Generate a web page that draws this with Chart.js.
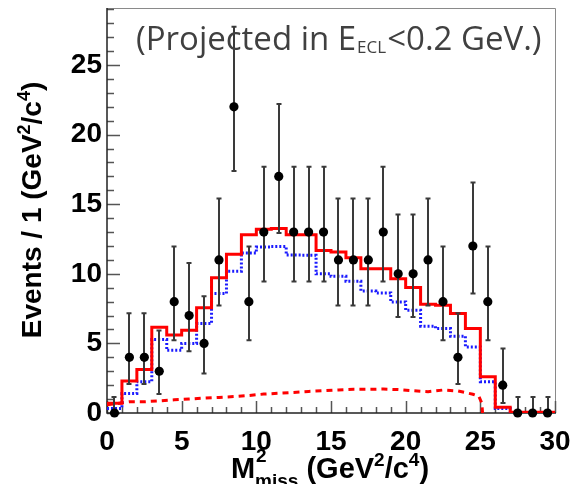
<!DOCTYPE html>
<html><head><meta charset="utf-8">
<script src="https://cdn.jsdelivr.net/npm/chart.js@4.4.1/dist/chart.umd.min.js"></script>
<style>html,body{margin:0;padding:0;background:#fff;overflow:hidden;} #wrap{width:572px;height:484px;position:relative;}</style>
</head><body><div id="wrap"><canvas id="c" width="572" height="484"></canvas></div>
<script>
// ---- data ----
const binCenters = [0.5,1.5,2.5,3.5,4.5,5.5,6.5,7.5,8.5,9.5,10.5,11.5,12.5,13.5,14.5,15.5,16.5,17.5,18.5,19.5,20.5,21.5,22.5,23.5,24.5,25.5,26.5,27.5,28.5,29.5];
const binEdges = [0,1,2,3,4,5,6,7,8,9,10,11,12,13,14,15,16,17,18,19,20,21,22,23,24,25,26,27,28,29,30];
const events = [0,4,4,3,8,7,5,11,22,8,13,17,13,13,13,11,11,11,13,10,10,11,8,4,12,8,2,0,0,0];
const errLow = [0,2.09,2.09,1.37,5.22,4.43,2.84,7.73,17.38,5.22,9.44,12.93,9.44,9.44,9.44,7.73,7.73,7.73,9.44,6.89,6.89,7.73,5.22,2.09,8.59,5.22,0.71,0,0,0];
const errHigh = [1.15,7.16,7.16,5.92,11.97,10.77,8.38,15.42,27.76,11.97,17.70,22.21,17.70,17.70,17.70,15.42,15.42,15.42,17.70,14.27,14.27,15.42,11.97,7.16,16.56,11.97,4.64,1.15,1.15,1.15];
const totalFit = [0.7,2.3,3.13,6.16,5.6,5.95,7.57,9.72,11.4,12.8,13.2,13.26,12.8,12.8,11.68,11.56,11.16,10.37,10.37,9.65,9.01,7.81,7.74,7.15,6.07,2.6,0.41,0.05,0.05,0.05];
const signalFit = [0.33,1.4,2.25,5.28,4.5,5.0,6.43,8.58,10.18,11.5,11.92,11.97,11.35,11.33,10.0,9.82,9.46,8.77,8.63,7.98,7.38,6.24,6.07,5.52,4.75,2.25,0.33,0.02,0.02,0.02];
const bgX = [0,0.5,1.5,2.5,3.5,4.5,5.5,6.5,7.5,8.5,9.5,10.5,11.5,12.5,13.5,14.5,15.5,16.5,17.5,18.5,19.5,20.5,21.5,22.5,23.5,24.5,24.9,25.1,25.15];
const bgY = [0.6,0.65,0.81,0.81,0.87,0.95,1.0,1.07,1.12,1.18,1.26,1.36,1.42,1.48,1.55,1.6,1.65,1.7,1.7,1.72,1.68,1.6,1.53,1.65,1.58,1.35,1.2,0.7,0];
const xTickValues = [0,5,10,15,20,25,30];
const yTickValues = [0,5,10,15,20,25];
const xMinor = [0,1,2,3,4,5,6,7,8,9,10,11,12,13,14,15,16,17,18,19,20,21,22,23,24,25,26,27,28,29,30];
const yMinor = [0,1,2,3,4,5,6,7,8,9,10,11,12,13,14,15,16,17,18,19,20,21,22,23,24,25,26,27,28,29];
const annotation = ['(Projected in E', 'ECL', '<0.2 GeV.)'];

function stepData(vals){
  const d = vals.map((v,i)=>({x:binEdges[i], y:v}));
  d.push({x:binEdges[vals.length], y:vals[vals.length-1]});
  return d;
}

const BOLD = '"Liberation Sans", Arial, Helvetica, sans-serif';

function drawRich(ctx, segs, x, y, align){
  let w = 0;
  segs.forEach(s=>{ctx.font = 'bold '+s.size+'px '+BOLD; s.w = ctx.measureText(s.t).width; w += s.w;});
  let cx = align==='center' ? x - w/2 : x;
  segs.forEach(s=>{ctx.font = 'bold '+s.size+'px '+BOLD; ctx.fillText(s.t, cx, y + (s.dy||0)); cx += s.w;});
}

const decor = {
  id:'decor',
  beforeDatasetsDraw(chart){
    const {ctx, chartArea:a, scales:{x, y}} = chart;
    ctx.save();
    ctx.strokeStyle = '#8a8a8a'; ctx.lineWidth = 1;
    ctx.beginPath(); ctx.moveTo(a.left, a.top+0.5); ctx.lineTo(a.right+0.5, a.top+0.5); ctx.lineTo(a.right+0.5, a.bottom); ctx.stroke();
    ctx.strokeStyle = '#555'; ctx.lineWidth = 1.5;
    ctx.beginPath();
    xMinor.forEach(v=>{ const px = Math.round(x.getPixelForValue(v))+0.5; const len = (v%5===0)?12:6; ctx.moveTo(px, a.bottom); ctx.lineTo(px, a.bottom-len); });
    yMinor.forEach(v=>{ const py = Math.round(y.getPixelForValue(v))+0.5; const len = (v%5===0)?13:7; ctx.moveTo(a.left, py); ctx.lineTo(a.left+len, py); });
    ctx.stroke();
    ctx.strokeStyle = '#222'; ctx.lineWidth = 1.5;
    ctx.beginPath(); ctx.moveTo(a.left, a.top); ctx.lineTo(a.left, a.bottom); ctx.lineTo(a.right+1, a.bottom); ctx.stroke();
    ctx.restore();
  },
  beforeDatasetDraw(chart, args){
    if (args.index !== 0) return;
    const {ctx, scales:{x, y}} = chart;
    ctx.save();
    ctx.strokeStyle = '#3a3a3a'; ctx.lineWidth = 2;
    ctx.beginPath();
    binCenters.forEach((c,i)=>{
      const px = Math.round(x.getPixelForValue(c));
      const y1 = y.getPixelForValue(errLow[i]), y2 = y.getPixelForValue(errHigh[i]);
      ctx.moveTo(px, y1); ctx.lineTo(px, y2);
      ctx.moveTo(px-2.5, y2); ctx.lineTo(px+2.5, y2);
      if (errLow[i] > 0){ ctx.moveTo(px-2.5, y1); ctx.lineTo(px+2.5, y1); }
    });
    ctx.stroke();
    ctx.restore();
  },
  afterDraw(chart){
    const {ctx} = chart;
    ctx.save();
    ctx.fillStyle = '#000';
    ctx.textBaseline = 'alphabetic';
    // y title
    ctx.save();
    ctx.translate(41, 210); ctx.rotate(-Math.PI/2);
    drawRich(ctx, [{t:'Events / 1 (GeV',size:28},{t:'2',size:18,dy:-11},{t:'/c',size:28},{t:'4',size:18,dy:-11},{t:')',size:28}], 0, 0, 'center');
    ctx.restore();
    // x title
    ctx.font = 'bold 29px '+BOLD;
    const w0 = ctx.measureText('M').width;
    ctx.font = 'bold 19px '+BOLD;
    const wSub = ctx.measureText('miss').width;
    ctx.font = 'bold 29px '+BOLD;
    let wRest = ctx.measureText(' (GeV/c)').width;
    ctx.font = 'bold 19px '+BOLD;
    wRest += 2*ctx.measureText('2').width;
    const total = w0 + wSub + wRest;
    let cx = 330 - total/2;
    const base = 478;
    ctx.font = 'bold 29px '+BOLD; ctx.fillText('M', cx, base); cx += w0;
    ctx.font = 'bold 19px '+BOLD; ctx.fillText('2', cx+1, base-16); ctx.fillText('miss', cx, base+9); cx += wSub;
    drawRich(ctx, [{t:' (GeV',size:29},{t:'2',size:19,dy:-12},{t:'/c',size:29},{t:'4',size:19,dy:-12},{t:')',size:29}], cx, base, 'left');
    // annotation
    ctx.fillStyle = '#404040';
    let ax = 136; const ab = 50;
    ctx.font = '33px "Open Sans", "Noto Sans", sans-serif';
    ctx.fillText(annotation[0], ax, ab); ax += ctx.measureText(annotation[0]).width + 1;
    ctx.font = '17px "Open Sans", "Noto Sans", sans-serif';
    ctx.fillText(annotation[1], ax, ab+3); ax += ctx.measureText(annotation[1]).width + 1;
    ctx.font = '33px "Open Sans", "Noto Sans", sans-serif';
    ctx.fillText(annotation[2], ax, ab);
    ctx.restore();
  }
};

function zeroPad(s){ s.paddingLeft = 0; s.paddingRight = 0; s.paddingTop = 0; s.paddingBottom = 0; }

new Chart(document.getElementById('c'), {
  type:'scatter',
  data:{datasets:[
    {label:'data', data: binCenters.map((c,i)=>({x:c, y:events[i]})), pointRadius:4.6, pointHoverRadius:4.6, backgroundColor:'#000', borderWidth:0, order:0, clip:false},
    {label:'background', data: bgX.map((v,i)=>({x:v, y:bgY[i]})), showLine:true, pointRadius:0, borderColor:'#ff0000', borderWidth:3, borderDash:[6,5], order:3},
    {label:'signal', data: stepData(signalFit), showLine:true, stepped:true, pointRadius:0, borderColor:'#1a1aff', borderWidth:3, borderDash:[2,2], order:2},
    {label:'total', data: stepData(totalFit), showLine:true, stepped:true, pointRadius:0, borderColor:'#ff0000', borderWidth:3, order:1}
  ]},
  options:{
    responsive:false, animation:false, devicePixelRatio:1,
    layout:{padding:{left:0, right:17, top:8, bottom:0}},
    plugins:{legend:{display:false}, tooltip:{enabled:false}},
    scales:{
      x:{type:'linear', min:0, max:30,
        afterFit(s){ s.height = 71; zeroPad(s); },
        afterBuildTicks(s){ s.ticks = xTickValues.map(v=>({value:v})); },
        grid:{display:false, drawTicks:false}, border:{display:false},
        ticks:{padding:12, color:'#000', font:{family:BOLD, size:28, weight:'bold'}, maxRotation:0, autoSkip:false}
      },
      y:{type:'linear', min:0, max:29.1,
        afterFit(s){ s.width = 107; zeroPad(s); },
        afterBuildTicks(s){ s.ticks = yTickValues.map(v=>({value:v})); },
        grid:{display:false, drawTicks:false}, border:{display:false},
        ticks:{padding:5, color:'#000', font:{family:BOLD, size:28, weight:'bold'}, autoSkip:false}
      }
    }
  },
  plugins:[decor]
});
</script>
</body></html>
